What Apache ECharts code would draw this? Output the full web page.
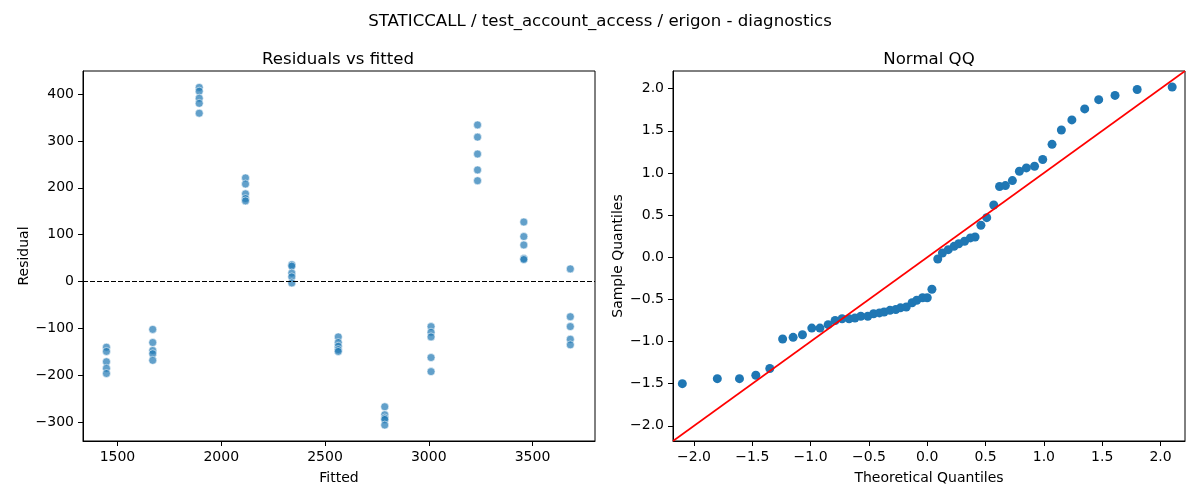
<!DOCTYPE html>
<html>
<head>
<meta charset="utf-8">
<script src="https://cdn.jsdelivr.net/npm/echarts@6.0.0/dist/echarts.min.js"></script>
<style>
  html, body { margin: 0; padding: 0; background: #fff; }
  #main { width: 1200px; height: 500px; }
</style>
</head>
<body>
<div id="main"></div>
<script>
// residuals vs fitted: one vertical strip per fitted level
var fittedLevels = [1447, 1670, 1894, 2117, 2340, 2564, 2788, 3011, 3235, 3458, 3682];
var residualsByLevel = [
  [-140, -149, -171, -185, -196],
  [-102, -130, -147, -154, -168],
  [414, 406, 391, 380, 359],
  [221, 208, 187, 177, 172],
  [36, 33, 18, 10, -3],
  [-118, -130, -138, -145, -149],
  [-267, -284, -291, -294, -306],
  [-96, -108, -118, -162, -192],
  [334, 308, 272, 238, 215],
  [127, 96, 78, 49, 47],
  [27, -75, -96, -123, -135]
];

// normal QQ
var theoQuantiles = [-2.10, -1.80, -1.61, -1.47, -1.35, -1.24, -1.15, -1.07, -0.99, -0.92,
  -0.85, -0.79, -0.73, -0.67, -0.62, -0.57, -0.51, -0.46, -0.41, -0.37,
  -0.32, -0.27, -0.23, -0.18, -0.13, -0.09, -0.04, 0.00, 0.04, 0.09,
  0.13, 0.18, 0.23, 0.27, 0.32, 0.37, 0.41, 0.46, 0.51, 0.57,
  0.62, 0.67, 0.73, 0.79, 0.85, 0.92, 0.99, 1.07, 1.15, 1.24,
  1.35, 1.47, 1.61, 1.80, 2.10];
var sampleQuantiles = [-1.50, -1.44, -1.44, -1.40, -1.32, -0.97, -0.95, -0.92, -0.84, -0.84,
  -0.80, -0.75, -0.73, -0.73, -0.72, -0.70, -0.70, -0.67, -0.66, -0.65,
  -0.63, -0.62, -0.60, -0.59, -0.54, -0.51, -0.48, -0.48, -0.38, -0.02,
  0.05, 0.09, 0.13, 0.16, 0.19, 0.23, 0.24, 0.38, 0.47, 0.62,
  0.84, 0.85, 0.91, 1.02, 1.06, 1.08, 1.16, 1.34, 1.51, 1.63,
  1.76, 1.87, 1.92, 1.99, 2.02];
var refLine = [[-2.18, -2.18], [2.21, 2.21]];

// tick labels
var fittedTicks = [1500, 2000, 2500, 3000, 3500];
var residualTicks = [-300, -200, -100, 0, 100, 200, 300, 400];
var qqTicks = [-2.0, -1.5, -1.0, -0.5, 0.0, 0.5, 1.0, 1.5, 2.0];

var FONT = 'DejaVu Sans';

function minus(s) { return String(s).replace('-', '\u2212'); }

var residPoints = [];
fittedLevels.forEach(function (f, i) {
  residualsByLevel[i].forEach(function (r) { residPoints.push([f, r]); });
});
var qqPoints = theoQuantiles.map(function (t, i) { return [t, sampleQuantiles[i]]; });

function valueAxis(gridIndex, min, max, ticks, name, gap, fmt) {
  return {
    type: 'value', gridIndex: gridIndex, min: min, max: max,
    name: name, nameLocation: 'middle', nameGap: gap,
    nameTextStyle: { fontFamily: FONT, fontSize: 14, color: '#000' },
    axisLine: { show: true, onZero: false, lineStyle: { color: '#000', width: 1 } },
    axisTick: { show: true, length: 5, lineStyle: { color: '#000', width: 1 }, customValues: ticks },
    axisLabel: { fontFamily: FONT, fontSize: 14, color: '#000', margin: 9, customValues: ticks, formatter: fmt },
    splitLine: { show: false }
  };
}

var intFmt = function (v) { return minus(v); };
var decFmt = function (v) { return minus(v.toFixed(1)); };

var titleStyle = { fontFamily: FONT, fontSize: 16.6, fontWeight: 'normal', color: '#000' };

var chart = echarts.init(document.getElementById('main'));
chart.setOption({
  backgroundColor: '#fff',
  animation: false,
  title: [
    { text: 'STATICCALL / test_account_access / erigon - diagnostics', left: 595, textAlign: 'center', top: 8, textStyle: titleStyle },
    { text: 'Residuals vs fitted', left: 333, textAlign: 'center', top: 46, textStyle: titleStyle },
    { text: 'Normal QQ', left: 924, textAlign: 'center', top: 46, textStyle: titleStyle }
  ],
  grid: [
    { left: 83, top: 71, width: 512, height: 370, show: true, borderColor: '#000', borderWidth: 1, containLabel: false },
    { left: 673, top: 71, width: 512, height: 370, show: true, borderColor: '#000', borderWidth: 1, containLabel: false }
  ],
  xAxis: [
    valueAxis(0, 1334, 3801, fittedTicks, 'Fitted', 30, intFmt),
    valueAxis(1, -2.18, 2.21, qqTicks, 'Theoretical Quantiles', 30, decFmt)
  ],
  yAxis: [
    valueAxis(0, -340, 449, residualTicks, 'Residual', 52, intFmt),
    valueAxis(1, -2.18, 2.21, qqTicks, 'Sample Quantiles', 48, decFmt)
  ],
  series: [
    {
      type: 'scatter', xAxisIndex: 0, yAxisIndex: 0, data: residPoints,
      symbolSize: 8,
      itemStyle: { color: '#1f77b4', opacity: 0.7, borderColor: '#fff', borderWidth: 0.8 },
      markLine: {
        silent: true, symbol: 'none', animation: false, label: { show: false },
        lineStyle: { color: '#000', width: 1, type: [5, 2] },
        data: [{ yAxis: 0 }]
      }
    },
    {
      type: 'scatter', xAxisIndex: 1, yAxisIndex: 1, data: qqPoints,
      symbolSize: 9,
      itemStyle: { color: '#1f77b4', opacity: 1 }
    },
    {
      type: 'line', xAxisIndex: 1, yAxisIndex: 1, data: refLine,
      symbol: 'none', z: 3,
      lineStyle: { color: '#ff0000', width: 1.6 }
    }
  ]
});
</script>
</body>
</html>
